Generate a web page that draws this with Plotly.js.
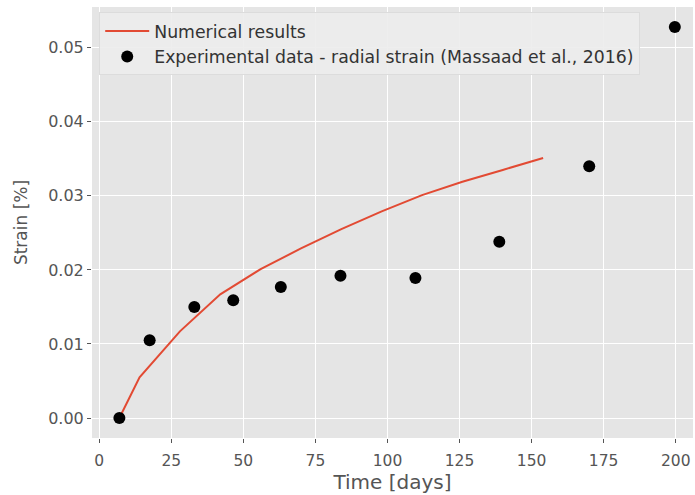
<!DOCTYPE html>
<html>
<head>
<meta charset="utf-8">
<script src="https://cdn.plot.ly/plotly-3.0.1.min.js"></script>
<style>html,body{margin:0;padding:0;background:#fff;}#chart{width:695px;height:495px;}</style>
</head>
<body>
<div id="chart"></div>
<script>
const numTime = [7, 14, 28, 42, 56, 70, 84, 98, 112, 126, 140, 154];
const numStrain = [0.0, 0.0055, 0.0117, 0.0167, 0.0201, 0.0229, 0.0255, 0.0279, 0.0301, 0.0319, 0.0335, 0.0351];
const expTime = [7, 17.5, 33, 46.5, 63, 83.7, 109.7, 138.8, 170, 199.7];
const expStrain = [0.0, 0.0105, 0.0150, 0.0159, 0.0177, 0.0192, 0.0189, 0.0238, 0.0340, 0.0528];
const xTicks = [0, 25, 50, 75, 100, 125, 150, 175, 200];
const yTicks = [0.00, 0.01, 0.02, 0.03, 0.04, 0.05];
const yTickText = ['0.00', '0.01', '0.02', '0.03', '0.04', '0.05'];

const traces = [
  {x: numTime, y: numStrain, mode: 'lines', name: 'Numerical results',
   line: {color: '#E24A33', width: 2}},
  {x: expTime, y: expStrain, mode: 'markers', name: 'Experimental data - radial strain (Massaad et al., 2016)',
   marker: {color: '#000000', size: 12}}
];

const layout = {
  width: 695, height: 495,
  margin: {l: 92, r: 2, t: 7, b: 57},
  paper_bgcolor: '#ffffff',
  plot_bgcolor: '#E5E5E5',
  font: {family: 'DejaVu Sans', color: '#555555', size: 15},
  showlegend: true,
  legend: {x: 0.012, y: 0.988, xanchor: 'left', yanchor: 'top',
           bgcolor: 'rgba(236,236,236,0.9)', bordercolor: '#dcdcdc', borderwidth: 1,
           itemwidth: 44,
           font: {size: 17.3, color: '#333333'}, tracegroupgap: 0},
  xaxis: {range: [-2.5, 206], tickvals: xTicks, ticktext: xTicks.map(String),
          showgrid: true, gridcolor: '#ffffff', gridwidth: 1, zeroline: false,
          ticks: 'outside', ticklen: 4, tickcolor: '#555555', showline: false,
          ticklabelstandoff: 4,
          tickfont: {size: 15.5, color: '#555555'},
          title: {text: 'Time [days]', font: {size: 20, color: '#555555'}, standoff: 6}},
  yaxis: {range: [-0.0027, 0.0555], tickvals: yTicks, ticktext: yTickText,
          showgrid: true, gridcolor: '#ffffff', gridwidth: 1, zeroline: false,
          ticks: 'outside', ticklen: 4, tickcolor: '#555555', showline: false,
          tickfont: {size: 16, color: '#555555'},
          title: {text: 'Strain [%]', font: {size: 17, color: '#555555'}, standoff: 16}}
};

Plotly.newPlot('chart', traces, layout, {displayModeBar: false, staticPlot: true});
</script>
</body>
</html>
